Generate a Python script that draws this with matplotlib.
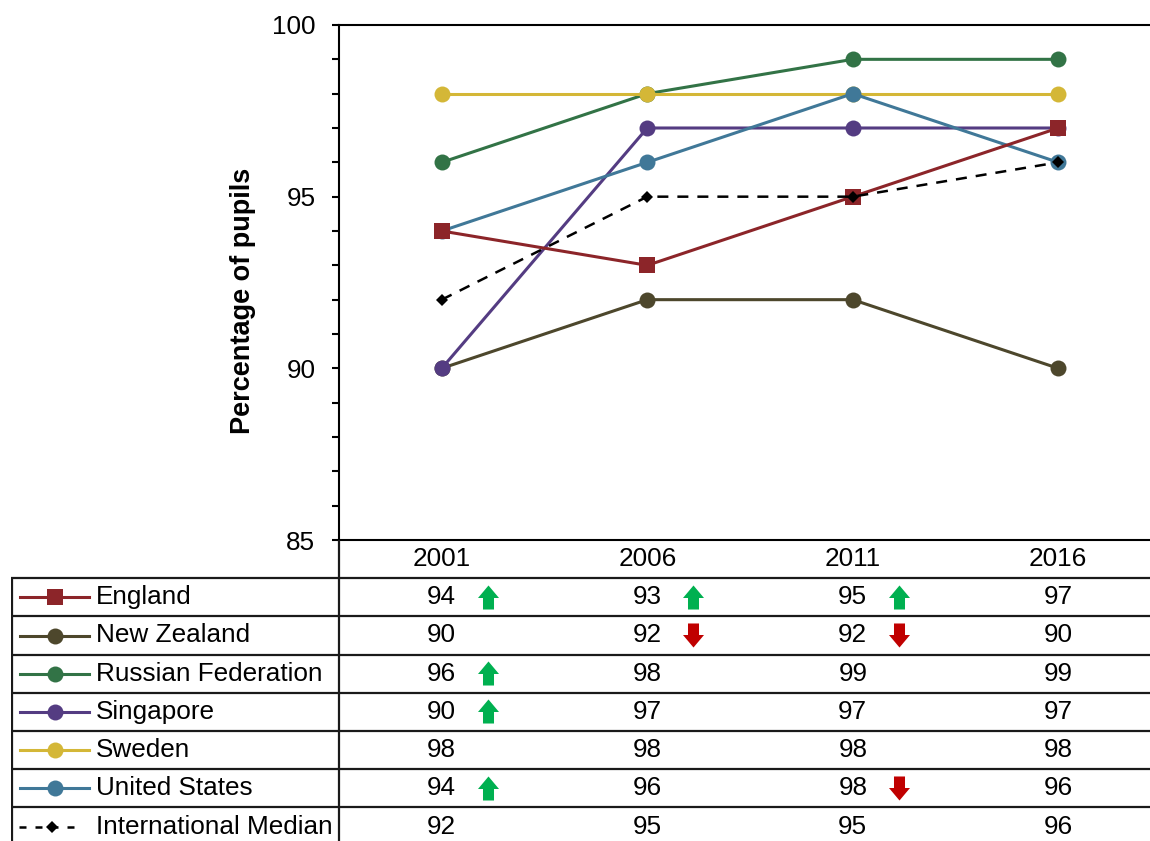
import matplotlib
matplotlib.use("Agg")
import matplotlib.pyplot as plt
from matplotlib.path import Path
from matplotlib.ticker import MultipleLocator
from matplotlib.lines import Line2D

plt.rcParams['font.family'] = ['Liberation Sans', 'DejaVu Sans']

# ---- data -------------------------------------------------------------
years = ["2001", "2006", "2011", "2016"]
countries = ["England", "New Zealand", "Russian Federation", "Singapore",
             "Sweden", "United States", "International Median"]

england = [94, 93, 95, 97]
new_zealand = [90, 92, 92, 90]
russia = [96, 98, 99, 99]
singapore = [90, 97, 97, 97]
sweden = [98, 98, 98, 98]
united_states = [94, 96, 98, 96]
intl_median = [92, 95, 95, 96]

# significant change from that cycle to 2016: 'up', 'down' or ''
england_sig = ["up", "up", "up", ""]
new_zealand_sig = ["", "down", "down", ""]
russia_sig = ["up", "", "", ""]
singapore_sig = ["up", "", "", ""]
sweden_sig = ["", "", "", ""]
united_states_sig = ["up", "", "down", ""]
intl_median_sig = ["", "", "", ""]

yticks = [85, 90, 95, 100]

# ---- styling ----------------------------------------------------------
MEDIAN = "International Median"
series = [
    # name, values, significance, colour, marker, marker size
    ("England", england, england_sig, "#8C2529", "s", 11.5),
    ("New Zealand", new_zealand, new_zealand_sig, "#4D472C", "o", 11.5),
    ("Russian Federation", russia, russia_sig, "#327346", "o", 11.5),
    ("Singapore", singapore, singapore_sig, "#543C82", "o", 11.5),
    ("Sweden", sweden, sweden_sig, "#D4B737", "o", 11.5),
    ("United States", united_states, united_states_sig, "#407898", "o", 11.5),
    (MEDIAN, intl_median, intl_median_sig, "black", "D", 6.5),
]
# drawing order on the chart (later on top)
draw_order = ["New Zealand", "Russian Federation", "Singapore", "Sweden",
              "United States", "England", MEDIAN]

W, H = 1150, 841
DPI = 100
FS = 18.8
fig = plt.figure(figsize=(W / DPI, H / DPI), dpi=DPI)

# geometry in pixels
ax_left, ax_top, ax_bottom = 339, 25, 540
col_px = 205.5
ax_width = 4 * col_px
row_px = 38.2
n_rows = 8

def px2x(px):
    return -0.5 + (px - ax_left) / col_px

ax = fig.add_axes([ax_left / W, (H - ax_bottom) / H, ax_width / W,
                   (ax_bottom - ax_top) / H])

lookup = {s[0]: s for s in series}
for name in draw_order:
    _, vals, _, col, mk, ms = lookup[name]
    if name == MEDIAN:
        lw, ls = 1.8, (0, (4.4, 3.6))
    else:
        lw, ls = 2.2, "-"
    ax.plot(range(len(years)), vals, color=col, marker=mk, markersize=ms,
            markeredgewidth=0, linewidth=lw, linestyle=ls, clip_on=False)

ax.set_xlim(-0.5, 3.5)
ax.set_ylim(85, 100)
ax.set_yticks(yticks)
ax.yaxis.set_minor_locator(MultipleLocator(1))
ax.tick_params(axis='y', which='both', direction='out', length=5, width=1.5,
               labelsize=FS, pad=12)
ax.set_xticks([])
for side in ("left", "top", "bottom"):
    ax.spines[side].set_linewidth(1.5)
ax.spines["right"].set_visible(False)

ax.set_ylabel("Percentage of pupils", fontsize=19.5, fontweight='bold')
ax.yaxis.set_label_coords((243 - ax_left) / ax_width,
                          (ax_bottom - 301) / (ax_bottom - ax_top))
ax.yaxis.label.set_va('center')

# ---- data table below the chart --------------------------------------
tab_left = 11
tab_height = n_rows * row_px
tab = fig.add_axes([tab_left / W, (H - ax_bottom - tab_height) / H,
                    (ax_left + ax_width - tab_left) / W, tab_height / H])
tab.set_xlim(px2x(tab_left), px2x(ax_left + ax_width))
tab.set_ylim(n_rows, 0)
tab.axis('off')

line_kw = dict(color="#1a1a1a", linewidth=1.6, solid_capstyle='butt')
for r in range(1, n_rows + 1):
    tab.plot([px2x(tab_left), px2x(ax_left + ax_width)], [r, r], **line_kw)
tab.plot([px2x(tab_left + 0.8)] * 2, [1, n_rows], **line_kw)
tab.plot([-0.5, -0.5], [0, n_rows], **line_kw)

for i, yr in enumerate(years):
    tab.text(i, 0.5, yr, ha='center', va='center', fontsize=FS)

# arrow markers
up_path = Path([(0, 12), (10.5, -0.5), (5.5, -0.5), (5.5, -12),
                (-5.5, -12), (-5.5, -0.5), (-10.5, -0.5), (0, 12)],
               closed=True)
down_path = Path([(x, -y) for x, y in up_path.vertices], closed=True)
arrow_style = {"up": (up_path, "#00B050"), "down": (down_path, "#C00000")}
arrow_dx = 46 / col_px

for r, (name, vals, sig, col, mk, ms) in enumerate(series, start=1):
    yc = r + 0.5
    if name == MEDIAN:
        tab.add_line(Line2D([px2x(19), px2x(78)], [yc, yc], color=col,
                            linewidth=1.8, linestyle=(0, (2.8, 3.6))))
        mx = px2x(52)
    else:
        tab.add_line(Line2D([px2x(20), px2x(89)], [yc, yc], color=col,
                            linewidth=2.2))
        mx = px2x(55)
    tab.plot([mx], [yc], marker=mk, markersize=ms, color=col,
             markeredgewidth=0)
    tab.text(px2x(96), yc, name, ha='left', va='center', fontsize=FS)
    for i, (v, s) in enumerate(zip(vals, sig)):
        tab.text(i, yc, str(v), ha='center', va='center', fontsize=FS)
        if s:
            pth, c = arrow_style[s]
            tab.plot([i + arrow_dx], [yc - 0.02], marker=pth, markersize=17.3,
                     color=c, markeredgewidth=0, linestyle='none')

fig.savefig("out.png", dpi=DPI)
